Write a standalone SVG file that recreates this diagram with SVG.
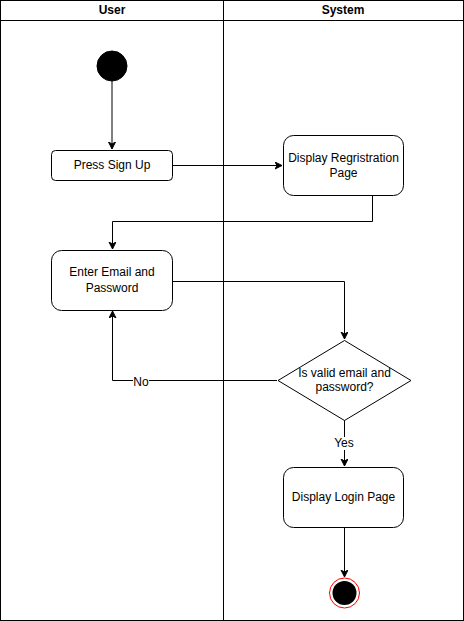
<svg xmlns="http://www.w3.org/2000/svg" width="464" height="621" viewBox="0 0 464 621">
<defs>
<style>
.box{fill:#fff;stroke:#000;stroke-width:1}
.t{font-family:"Liberation Sans",Arial,sans-serif;font-size:12px;fill:#000;text-anchor:middle}
.h{font-weight:bold}
.c{fill:none;stroke:#000;stroke-width:1}
.lbl{fill:#fff}
</style>
<marker id="ah" markerWidth="10" markerHeight="10" refX="7" refY="3.5" orient="auto" markerUnits="userSpaceOnUse">
<path d="M0,0 L7,3.5 L0,7 L2,3.5 Z" fill="#000" stroke="#000" stroke-width="1"/>
</marker>
</defs>
<rect width="464" height="621" fill="#fff"/>
<g id="lanes">
<rect x="0.5" y="0.5" width="463" height="620" class="box"/>
<line x1="0.5" y1="20.5" x2="463.5" y2="20.5" stroke="#000"/>
<line x1="223.5" y1="0.5" x2="223.5" y2="620.5" stroke="#000"/>
<text x="112" y="14" class="t h">User</text>
<text x="343" y="14" class="t h">System</text>
</g>
<g id="connectors">
<line x1="112" y1="81" x2="112" y2="149" class="c" marker-end="url(#ah)"/>
<line x1="173" y1="165.5" x2="282" y2="165.5" class="c" marker-end="url(#ah)"/>
<polyline points="372.5,195 372.5,221.5 112.5,221.5 112.5,249" class="c" marker-end="url(#ah)"/>
<polyline points="173,281.5 344.5,281.5 344.5,339" class="c" marker-end="url(#ah)"/>
<polyline points="277,380.5 112.5,380.5 112.5,311" class="c" marker-end="url(#ah)"/>
<line x1="344.5" y1="420" x2="344.5" y2="466" class="c" marker-end="url(#ah)"/>
<line x1="344.5" y1="527" x2="344.5" y2="577" class="c" marker-end="url(#ah)"/>
<rect x="133" y="375" width="16" height="13" class="lbl"/>
<text x="141" y="386" class="t">No</text>
<rect x="333" y="437" width="22" height="13" class="lbl"/>
<text x="344" y="447" class="t">Yes</text>
</g>
<g id="start">
<circle cx="112" cy="66" r="15" fill="#000" stroke="#000"/>
</g>
<g id="press-sign-up">
<rect x="51.5" y="150.5" width="121" height="30" rx="4" class="box"/>
<text x="112" y="169" class="t">Press Sign Up</text>
</g>
<g id="display-registration">
<rect x="283.5" y="135.5" width="120" height="60" rx="10" class="box"/>
<text x="343.5" y="162" class="t">Display Regristration</text>
<text x="343.5" y="177" class="t">Page</text>
</g>
<g id="enter-email">
<rect x="51.5" y="250.5" width="121" height="60" rx="10" class="box"/>
<text x="112" y="276" class="t">Enter Email and</text>
<text x="112" y="292" class="t">Password</text>
</g>
<g id="decision">
<path d="M344.5,340.5 L411,380.5 L344.5,420.5 L278,380.5 Z" class="box" stroke-linejoin="round"/>
<text x="344.5" y="377" class="t">Is valid email and</text>
<text x="344.5" y="391" class="t">password?</text>
</g>
<g id="display-login">
<rect x="283.5" y="467.5" width="120" height="60" rx="10" class="box"/>
<text x="343.5" y="501" class="t">Display Login Page</text>
</g>
<g id="end">
<circle cx="344.5" cy="593" r="15" fill="#fff" stroke="#f00" stroke-width="1"/>
<circle cx="344.5" cy="593" r="12" fill="#000"/>
</g>
</svg>
